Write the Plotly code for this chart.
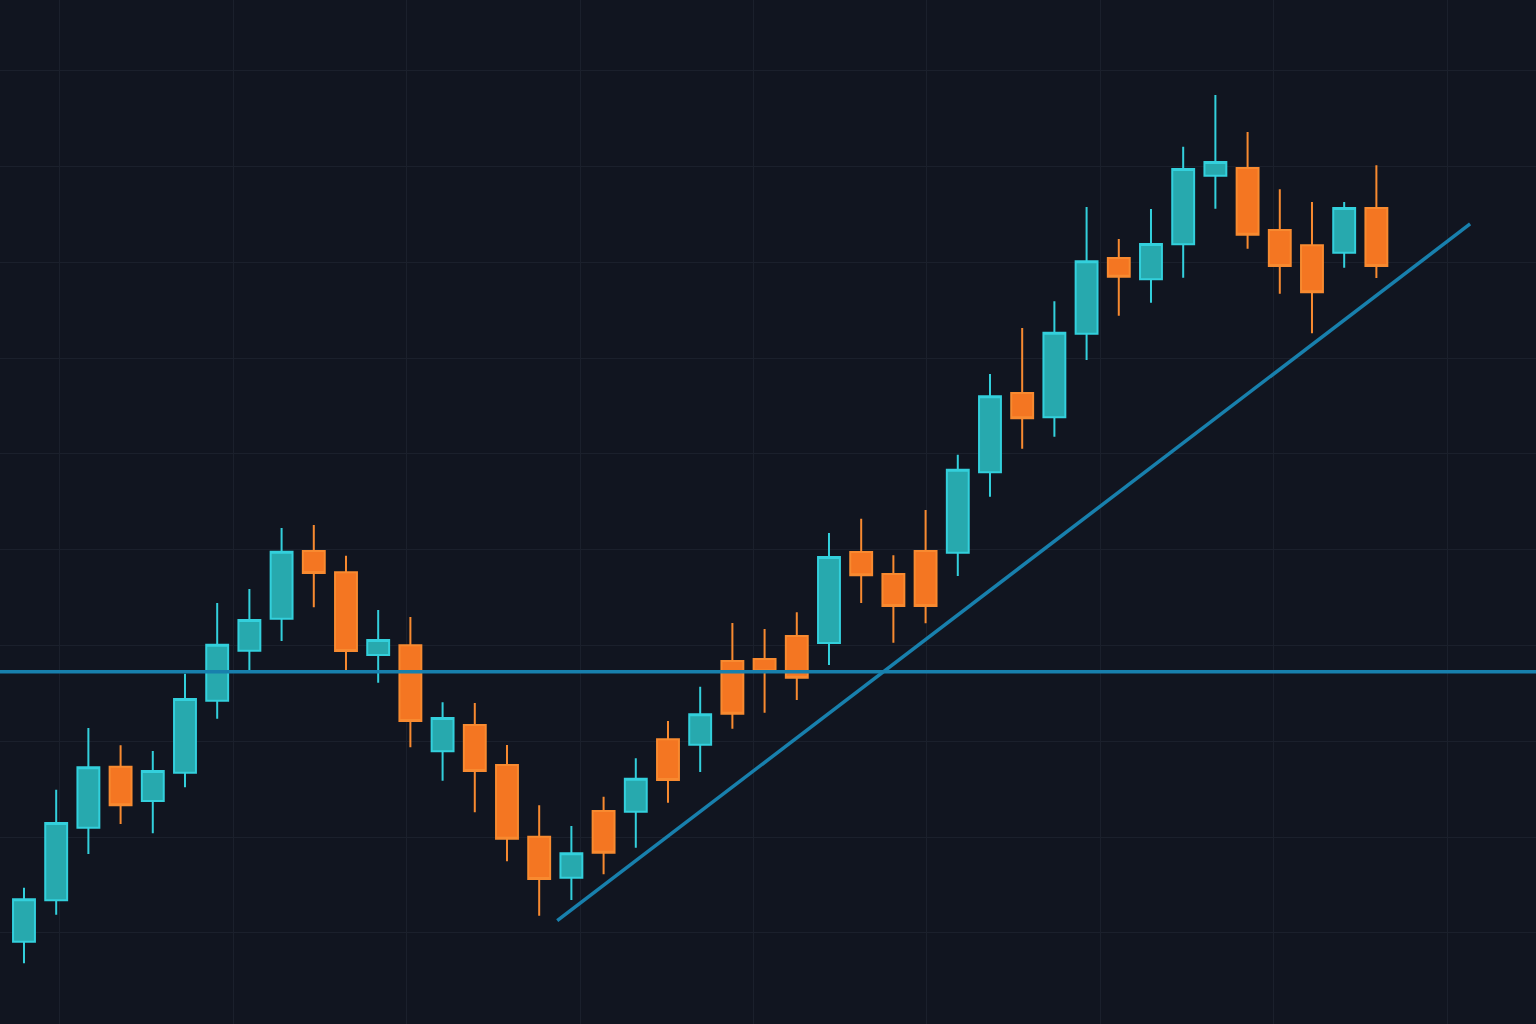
import plotly.graph_objects as go

# ============================== >>> Data <<< ==============================
opens = [99.09, 103.41, 110.99, 117.36, 113.78, 116.73, 124.25, 129.47, 132.81, 139.87,
         137.65, 129.02, 130.03, 118.97, 121.71, 117.54, 110.05, 105.77, 112.73, 112.66,
         120.22, 119.66, 128.39, 128.60, 131.00, 130.27, 139.77, 137.47, 139.87, 139.70,
         148.09, 156.37, 153.83, 162.56, 170.46, 168.24, 171.89, 179.05, 179.85, 173.38,
         171.78, 171.01, 175.68]
highs = [104.73, 114.96, 121.40, 119.59, 119.00, 127.07, 134.45, 135.91, 142.28, 142.59,
         139.38, 133.72, 132.99, 124.08, 124.01, 119.62, 113.33, 111.17, 114.23, 118.24,
         122.13, 125.71, 132.36, 131.73, 133.48, 141.75, 143.25, 139.43, 144.15, 149.93,
         158.35, 163.15, 165.94, 175.78, 172.44, 175.57, 182.08, 187.47, 183.61, 177.63,
         176.30, 176.30, 180.14]
lows = [96.84, 101.91, 108.25, 111.38, 110.41, 115.21, 122.37, 127.45, 130.48, 134.00,
        127.45, 126.13, 119.38, 115.90, 112.60, 107.48, 101.81, 103.44, 106.13, 108.90,
        113.60, 116.81, 121.33, 123.00, 124.32, 127.97, 134.45, 130.30, 132.33, 137.27,
        145.54, 150.55, 151.81, 159.81, 164.44, 165.79, 168.40, 175.61, 171.43, 166.73,
        162.60, 169.45, 168.37]
closes = [103.52, 111.48, 117.30, 113.33, 116.91, 124.43, 130.09, 132.67, 139.80, 137.58,
          129.44, 130.58, 122.13, 122.44, 116.91, 109.84, 105.64, 108.32, 108.38, 116.11,
          115.97, 122.83, 122.89, 127.30, 126.65, 139.25, 137.34, 134.13, 134.13, 148.36,
          156.02, 153.73, 162.66, 170.11, 168.51, 171.92, 179.75, 180.48, 172.89, 169.62,
          166.88, 175.68, 169.62]
bars = list(range(len(opens)))

support_level = 127.28
trend_x = [16.56, 44.91]
trend_y = [101.28, 174.01]

# ============================== >>> Figure <<< ==============================
fig = go.Figure()

# support line
fig.add_trace(go.Scatter(
    x=[-1, 48], y=[support_level, support_level],
    mode='lines',
    line=dict(color='#1880ad', width=3.5),
    hoverinfo='skip'
))

# rising trend line
fig.add_trace(go.Scatter(
    x=trend_x, y=trend_y,
    mode='lines',
    line=dict(color='#1880ad', width=3.5),
    hoverinfo='skip'
))

fig.add_trace(go.Candlestick(
    x=bars,
    open=opens,
    high=highs,
    low=lows,
    close=closes,
    whiskerwidth=0,
    increasing=dict(line=dict(color='#33d0dc', width=2), fillcolor='#27a9ae'),
    decreasing=dict(line=dict(color='#f88a30', width=2), fillcolor='#f47622'),
    name='Candles'
))

# ============================== >>> Layout <<< ==============================
fig.update_layout(
    width=1536, height=1024,
    margin=dict(l=0, r=0, t=0, b=0),
    paper_bgcolor='#111520',
    plot_bgcolor='#111520',
    showlegend=False,
    boxgap=0.32, boxgroupgap=0,
    xaxis_rangeslider_visible=False,
)

fig.update_xaxes(
    range=[-0.745, 46.957],
    tick0=1.118, dtick=5.385,
    showgrid=True, gridcolor='#1b202c', gridwidth=1.2,
    showticklabels=False, zeroline=False, showline=False,
)
fig.update_yaxes(
    range=[90.50, 197.39],
    tick0=100, dtick=10,
    showgrid=True, gridcolor='#1b202c', gridwidth=1.2,
    showticklabels=False, zeroline=False, showline=False,
)

fig.write_html("out.html", config={'displayModeBar': False},
               post_script="document.body.style.margin='0';")
